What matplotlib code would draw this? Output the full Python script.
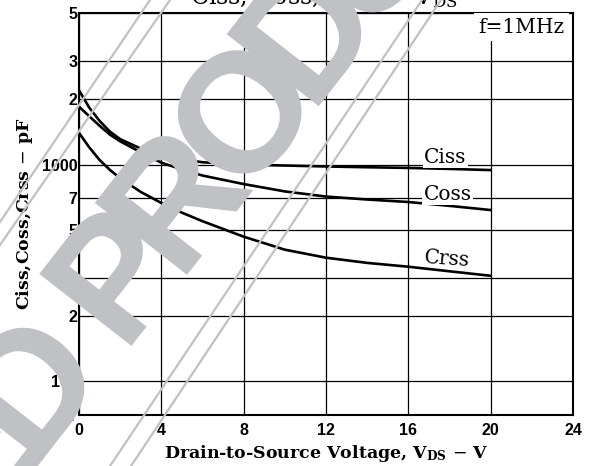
import matplotlib
matplotlib.use("Agg")
import numpy as np
import matplotlib.pyplot as plt
from matplotlib.lines import Line2D
from matplotlib.ticker import NullLocator
from matplotlib.textpath import TextPath
from matplotlib.patches import PathPatch
from matplotlib.font_manager import FontProperties
from matplotlib.transforms import Affine2D

plt.rcParams['mathtext.fontset'] = 'dejavuserif'

# 값은 그림에서 읽은 것 (V_DS [V], 용량 [pF])
vds = [0, 0.5, 1, 1.5, 2, 3, 4, 5, 6, 8, 10, 12, 14, 16, 18, 20]
ciss = [2200, 1830, 1590, 1420, 1310, 1185, 1105, 1055, 1025, 1000, 990, 980, 972, 965, 955, 943]
coss = [1850, 1670, 1510, 1375, 1280, 1140, 1020, 950, 890, 813, 752, 712, 690, 672, 645, 617]
crss = [1400, 1200, 1050, 945, 865, 748, 665, 600, 548, 465, 405, 372, 352, 338, 322, 307]

x_ticks = [0, 4, 8, 12, 16, 20, 24]
y_ticks = [70, 100, 200, 300, 500, 700, 1000, 2000, 3000, 5000]
y_labels = ['7', '100', '2', '3', '5', '7', '1000', '2', '3', '5']

serif = 'DejaVu Serif'
tick_font = dict(family='Liberation Sans', weight='bold', size=11.5)

fig = plt.figure(figsize=(5.94, 4.66), dpi=100)
ax = fig.add_axes([79 / 594, 51 / 466, 494 / 594, 402 / 466])

ax.plot(vds, ciss, color='black', lw=1.9, zorder=3)
ax.plot(vds, coss, color='black', lw=1.9, zorder=3)
ax.plot(vds, crss, color='black', lw=1.9, zorder=3)

ax.set_yscale('log')
ax.set_xlim(0, 24)
ax.set_ylim(70, 5000)
ax.set_xticks(x_ticks)
ax.set_xticklabels([str(t) for t in x_ticks], fontdict=tick_font)
ax.set_yticks(y_ticks)
ax.set_yticklabels(y_labels, fontdict=tick_font)
ax.yaxis.set_minor_locator(NullLocator())
ax.tick_params(axis='both', length=0)
ax.tick_params(axis='x', pad=6)
ax.tick_params(axis='y', pad=1)

ax.set_axisbelow(True)
ax.grid(True, color='black', lw=0.9)
for s in ax.spines.values():
    s.set_linewidth(1.5)

# 곡선 라벨
box = dict(fc='white', ec='none', pad=1)
ax.text(17.8, 1083, 'Ciss', family=serif, fontsize=14.5, ha='center', va='center', bbox=box, zorder=4)
ax.text(17.9, 731, 'Coss', family=serif, fontsize=14.5, ha='center', va='center', bbox=box, zorder=4)
ax.text(17.9, 367, 'Crss', family=serif, fontsize=14.5, ha='center', va='center', rotation=-4, zorder=4)
ax.text(21.5, 4300, 'f=1MHz', family=serif, fontsize=14.5, ha='center', va='center',
        bbox=dict(fc='white', ec='none', pad=3), zorder=4)

ax.set_xlabel('Drain-to-Source Voltage, V$_{\\mathbf{DS}}$ $-$ V', family=serif,
              fontsize=12.5, fontweight='bold', labelpad=3)
ax.set_ylabel('Ciss,Coss,Crss $-$ pF', family=serif, fontsize=12.5, fontweight='bold', labelpad=5)

# 위쪽이 잘린 제목
fig.text(0.545, 1 - 4 / 466, 'Ciss, Coss, Crss $-$ V$_{\\rm DS}$', family=serif, fontsize=17,
         ha='center', va='baseline')

# 워터마크 (회색 대각선 글자와 줄)
wm = '#c0c1c4'
H = 466


def wline(x0, y0, x1, y1):
    fig.add_artist(Line2D([x0 / 594, x1 / 594], [1 - y0 / H, 1 - y1 / H],
                          color=wm, lw=1.6, transform=fig.transFigure, zorder=10))


wline(150, 0, 0, 222)
wline(170, 0, 0, 245)
wline(422, 0, 110, 466)
wline(441, 0, 131, 466)

fp = FontProperties(family='Liberation Sans', weight='bold')
word = 'DISCONTINUED PRODUCT'
em, gap, angle = 170, -6, 52
d = np.array([np.cos(np.radians(angle)), np.sin(np.radians(angle))])
glyphs = []
pos, prev_w, extra = 0.0, None, 0.0
for ch in word:
    if ch == ' ':
        extra += 0.278 * em
        continue
    tp = TextPath((0, 0), ch, size=1, prop=fp)
    ext = tp.get_extents()
    w = ext.width * em
    if prev_w is not None:
        pos += prev_w / 2 + gap + extra + w / 2
    extra = 0.0
    glyphs.append((ch, tp, ext, pos))
    prev_w = w

p_pos = [g[3] for g in glyphs if g[0] == 'P'][0]
p_center = np.array([115, H - 272])
for ch, tp, ext, pos in glyphs:
    c = p_center + (pos - p_pos) * d
    cx, cy = (ext.x0 + ext.x1) / 2, (ext.y0 + ext.y1) / 2
    tr = Affine2D().translate(-cx, -cy).scale(em).rotate_deg(angle).translate(c[0], c[1])
    fig.add_artist(PathPatch(tp, transform=tr, fc=wm, ec='none', zorder=11))

fig.savefig('out.png', dpi=100)
